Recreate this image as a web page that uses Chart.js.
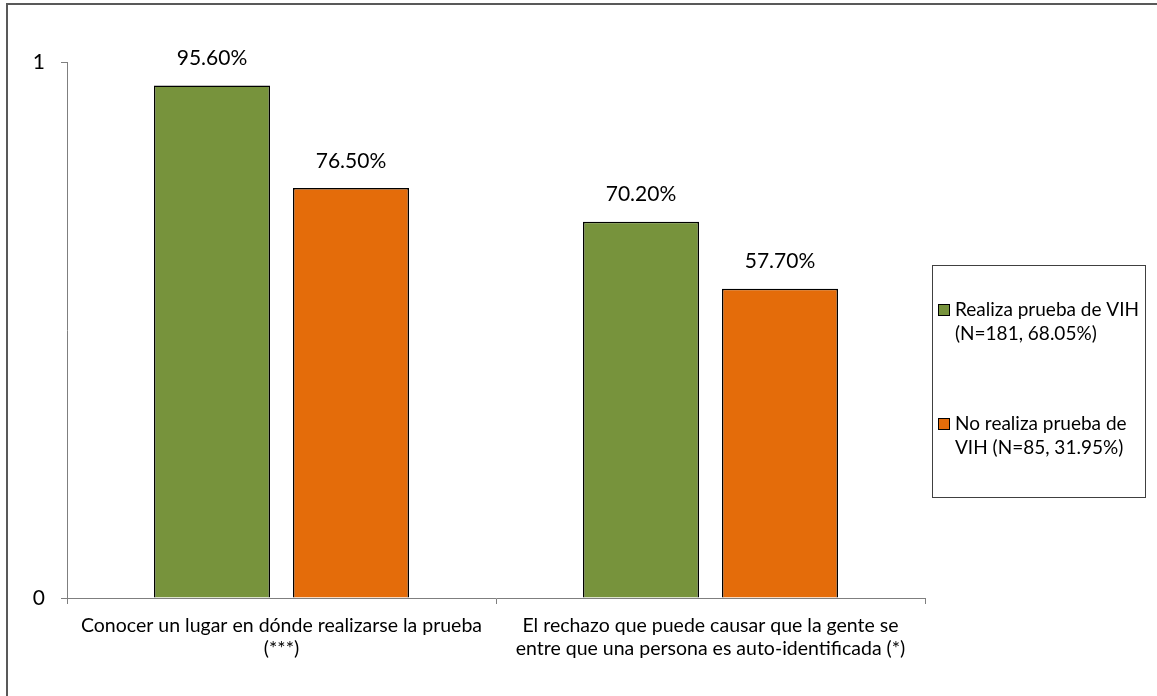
<html>
<head>
<meta charset="utf-8">
<script src="https://cdn.jsdelivr.net/npm/chart.js@4.4.1/dist/chart.umd.min.js"></script>
<style>
  body { margin: 0; background: #fff; }
  #wrap { width: 1157px; height: 696px; position: relative; }
</style>
</head>
<body>
<div id="wrap"><canvas id="bar-chart" width="1157" height="696"></canvas></div>

<script>
// data
var categories = [
  ["Conocer un lugar en dónde realizarse la prueba", "(***)"],
  ["El rechazo que puede causar que la gente se", "entre que una persona es auto-identificada (*)"]
]
var realizaValues = [0.956, 0.702]
var noRealizaValues = [0.765, 0.577]
var seriesNames = [
  ["Realiza prueba de VIH", "(N=181, 68.05%)"],
  ["No realiza prueba de", "VIH (N=85, 31.95%)"]
]
var yTickLabels = ["0", "1"]

var FONT = "Lato, 'Liberation Sans', sans-serif"

// value labels above each bar
var barLabels = {
  id: "barLabels",
  afterDatasetsDraw: function(chart){
    var ctx = chart.ctx
    ctx.save()
    ctx.fillStyle = "#000"
    ctx.font = "21px " + FONT
    ctx.textAlign = "center"
    ctx.textBaseline = "middle"
    chart.data.datasets.forEach(function(ds, i){
      chart.getDatasetMeta(i).data.forEach(function(bar, j){
        ctx.fillText((ds.data[j] * 100).toFixed(2) + "%", bar.x, bar.y - 27)
      })
    })
    ctx.restore()
  }
}

// outer frame and boxed legend
var frameAndLegend = {
  id: "frameAndLegend",
  afterDraw: function(chart){
    var ctx = chart.ctx
    ctx.save()
    ctx.strokeStyle = "#595959"
    ctx.lineWidth = 2
    ctx.strokeRect(7, 4, 1170, 710)

    ctx.strokeStyle = "#404040"
    ctx.lineWidth = 1
    ctx.strokeRect(932.5, 265.5, 213, 232)

    ctx.font = "19px " + FONT
    ctx.textBaseline = "middle"
    ctx.textAlign = "left"
    var tops = [310, 424]
    chart.data.datasets.forEach(function(ds, i){
      var y = tops[i]
      ctx.fillStyle = ds.backgroundColor
      ctx.fillRect(938.5, y - 5.5, 11, 11)
      ctx.strokeStyle = "#000"
      ctx.strokeRect(938.5, y - 5.5, 11, 11)
      ctx.fillStyle = "#000"
      seriesNames[i].forEach(function(line, k){
        ctx.fillText(line, 955, y + k * 24)
      })
    })
    ctx.restore()
  }
}

new Chart(document.getElementById("bar-chart"), {
  type: "bar",
  data: {
    labels: categories,
    datasets: [
      { label: seriesNames[0].join(" "), data: realizaValues, backgroundColor: "#77933C", borderColor: "#000", borderWidth: 1.5 },
      { label: seriesNames[1].join(" "), data: noRealizaValues, backgroundColor: "#E46C0A", borderColor: "#000", borderWidth: 1.5 }
    ]
  },
  options: {
    responsive: false,
    animation: false,
    categoryPercentage: 0.648,
    barPercentage: 0.835,
    layout: { padding: { top: 62, right: 232, left: 0, bottom: 0 } },
    plugins: {
      legend: { display: false },
      tooltip: { enabled: false }
    },
    scales: {
      x: {
        offset: true,
        grid: { drawOnChartArea: false, tickLength: 6, color: "#7f7f7f", offset: true },
        border: { color: "#7f7f7f", width: 1 },
        ticks: { color: "#000", font: { size: 19.5, family: FONT, lineHeight: 1.18 }, padding: 10, maxRotation: 0, autoSkip: false },
        afterFit: function(scale){ scale.height = 98 }
      },
      y: {
        min: 0,
        max: 1,
        grid: { drawOnChartArea: false, tickLength: 6, color: "#7f7f7f" },
        border: { color: "#7f7f7f", width: 1 },
        ticks: {
          stepSize: 1,
          color: "#000",
          font: { size: 21, family: FONT },
          padding: 16,
          callback: function(v){ return yTickLabels[v] }
        },
        afterFit: function(scale){ scale.width = 67 }
      }
    }
  },
  plugins: [barLabels, frameAndLegend]
})
</script>
</body>
</html>
